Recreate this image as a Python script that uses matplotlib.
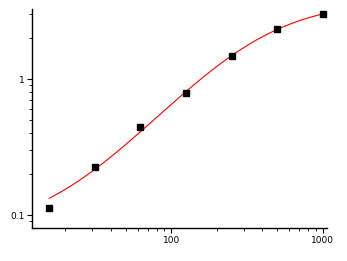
import numpy as np
import matplotlib
matplotlib.use('Agg')
import matplotlib.pyplot as plt
from matplotlib.ticker import LogLocator, NullFormatter, FixedLocator, FixedFormatter

# data points (concentration vs response)
conc = [15.625, 31.25, 62.5, 125, 250, 500, 1000]
resp = [0.1125, 0.225, 0.444, 0.789, 1.476, 2.33, 3.0]

x_ticks = [100, 1000]
x_labels = ['100', '1000']
y_ticks = [0.1, 1]
y_labels = ['0.1', '1']


def logistic(p, x):
    a1, a2, x0, k = p
    return a2 + (a1 - a2) / (1 + (x / x0) ** k)


# simple Levenberg-Marquardt fit of the 4-parameter logistic
def fit_logistic(x, y, p):
    x = np.asarray(x, float)
    y = np.asarray(y, float)
    p = np.asarray(p, float)
    lam = 1e-3
    for _ in range(500):
        r = y - logistic(p, x)
        J = np.zeros((len(x), len(p)))
        for j in range(len(p)):
            dp = np.zeros_like(p)
            dp[j] = 1e-6 * max(abs(p[j]), 1e-3)
            J[:, j] = (logistic(p + dp, x) - logistic(p - dp, x)) / (2 * dp[j])
        A = J.T @ J
        g = J.T @ r
        step = np.linalg.solve(A + lam * np.diag(np.diag(A)), g)
        pn = p + step
        if np.sum((y - logistic(pn, x)) ** 2) < np.sum(r ** 2):
            p = pn
            lam *= 0.3
        else:
            lam *= 10
    return p


params = fit_logistic(conc, resp, [0.05, 3.5, 300.0, 1.4])
print(params)

fig = plt.figure(figsize=(3.47, 2.61), dpi=100)
ax = fig.add_axes([32.3 / 347, (261 - 228.3) / 261, (326.7 - 32.3) / 347, (228.3 - 9) / 261])

xs = np.logspace(np.log10(conc[0]), np.log10(conc[-1]), 200)
ax.plot(xs, logistic(params, xs), color='red', lw=0.8)
ax.plot(conc, resp, 's', color='black', ms=4, mec='black')

ax.set_xscale('log')
ax.set_yscale('log')
ax.set_xlim(12.08, 1062)
ax.set_ylim(0.0802, 3.27)

ax.spines['top'].set_visible(False)
ax.spines['right'].set_visible(False)
for s in ['left', 'bottom']:
    ax.spines[s].set_linewidth(1.0)

ax.xaxis.set_major_locator(FixedLocator(x_ticks))
ax.xaxis.set_major_formatter(FixedFormatter(x_labels))
ax.yaxis.set_major_locator(FixedLocator(y_ticks))
ax.yaxis.set_major_formatter(FixedFormatter(y_labels))
ax.xaxis.set_minor_locator(LogLocator(base=10, subs=np.arange(2, 10)))
ax.yaxis.set_minor_locator(LogLocator(base=10, subs=np.arange(2, 10)))
ax.xaxis.set_minor_formatter(NullFormatter())
ax.yaxis.set_minor_formatter(NullFormatter())

ax.tick_params(which='major', direction='out', length=3.5, width=0.8, labelsize=6.5, pad=2)
ax.tick_params(which='minor', direction='out', length=2, width=0.6)

fig.savefig('out.png', dpi=100)
